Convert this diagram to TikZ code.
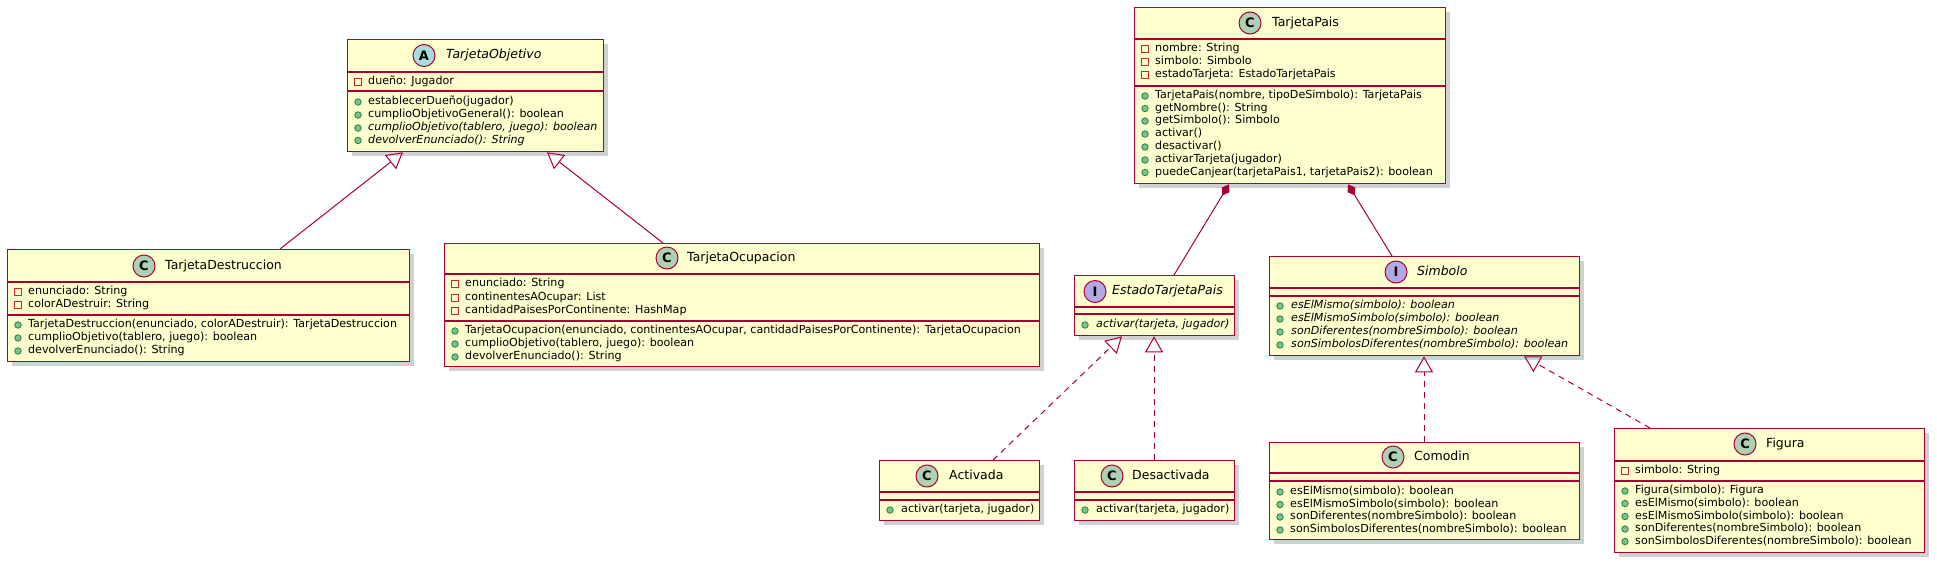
\documentclass[tikz,border=0pt]{standalone}
\usepackage{fontspec}
\setmainfont{DejaVu Sans}
\usetikzlibrary{arrows.meta,calc,shadows}
\definecolor{umlborder}{HTML}{A80036}
\definecolor{umlfill}{HTML}{FEFECE}
\definecolor{cbadge}{HTML}{ADD1B2}
\definecolor{abadge}{HTML}{A9DCDF}
\definecolor{ibadge}{HTML}{B4A7E5}
\definecolor{pubfill}{HTML}{84BE84}
\definecolor{pubdraw}{HTML}{038048}
\definecolor{privdraw}{HTML}{C82930}
\tikzset{
  cls/.style={draw=umlborder, fill=umlfill, line width=1.3pt, rectangle, inner sep=0pt, anchor=north west,
    drop shadow={shadow xshift=4pt, shadow yshift=-4pt, fill=black, opacity=0.18}},
  divider/.style={draw=umlborder, line width=1.2pt},
  badge/.style={circle, draw=umlborder, line width=1pt, minimum size=22pt, inner sep=0pt,
    font=\fontsize{13}{13}\selectfont\bfseries},
  cname/.style={anchor=west, inner sep=0pt, text height=9pt, text depth=2.5pt, font=\fontsize{12.5}{14}\selectfont},
  mem/.style={anchor=west, inner sep=0pt, text height=8pt, text depth=2.5pt, font=\fontsize{11.1}{13}\selectfont},
  pub/.style={circle, draw=pubdraw, fill=pubfill, minimum size=6.5pt, inner sep=0pt, line width=0.7pt},
  priv/.style={rectangle, draw=privdraw, minimum size=7pt, inner sep=0pt, line width=1pt},
  inh/.style={draw=umlborder, line width=1pt, -{Triangle[open, length=16pt, width=18pt]}},
  real/.style={draw=umlborder, line width=1pt, dash pattern=on 6pt off 5pt, -{Triangle[open, length=16pt, width=18pt]}},
  comp/.style={draw=umlborder, line width=1pt, -{Diamond[length=13pt, width=9pt, fill=umlborder]}},
}
\newcount\mc
% #1 name, #2 x, #3 y, #4 w, #5 h, #6 d1, #7 d2
\newcommand{\ubox}[7]{%
  \node[cls, minimum width=#4pt, minimum height=#5pt] (#1) at (#2,#3) {};
  \draw[divider] ([yshift=-#6pt]#1.north west) -- ([yshift=-#6pt]#1.north east);
  \draw[divider] ([yshift=-#7pt]#1.north west) -- ([yshift=-#7pt]#1.north east);
}
% #1 name, #2 badge colour, #3 letter, #4 badge x, #5 name x, #6 y, #7 text
\newcommand{\uhead}[7]{%
  \node[badge, fill=#2] (#1b) at (#4,#6) {#3};
  \node[cname] (#1n) at (#5,#6) {#7};
}
% #1 style, #2 icon x, #3 text x, #4 y, #5 text
\newcommand{\umem}[5]{%
  \global\advance\mc by 1
  \node[#1] (ic\the\mc) at (#2,#4) {};
  \node[mem] (tx\the\mc) at (#3,#4) {#5};
}
\begin{document}
\begin{tikzpicture}[x=1pt,y=-1pt]
\useasboundingbox (0,0) rectangle (1937,565);

% TarjetaObjetivo
\ubox{tobj}{347}{39}{256}{112}{33}{52}
\uhead{tobj}{abadge}{A}{424}{446}{55.5}{\itshape TarjetaObjetivo}
\umem{priv}{358}{368}{82}{dueño: Jugador}
\umem{pub}{358}{368}{102}{establecerDueño(jugador)}
\umem{pub}{358}{368}{115}{cumplioObjetivoGeneral(): boolean}
\umem{pub}{358}{368}{128}{\itshape cumplioObjetivo(tablero, juego): boolean}
\umem{pub}{358}{368}{140.5}{\itshape devolverEnunciado(): String}

% TarjetaDestruccion
\ubox{tdes}{7}{249}{402}{112}{33}{66}
\uhead{tdes}{cbadge}{C}{144}{165}{266}{TarjetaDestruccion}
\umem{priv}{18}{28}{292}{enunciado: String}
\umem{priv}{18}{28}{305}{colorADestruir: String}
\umem{pub}{18}{28}{325}{TarjetaDestruccion(enunciado, colorADestruir): TarjetaDestruccion}
\umem{pub}{18}{28}{338}{cumplioObjetivo(tablero, juego): boolean}
\umem{pub}{18}{28}{351}{devolverEnunciado(): String}

% TarjetaOcupacion
\ubox{tocu}{444}{243}{595}{123}{31}{78}
\uhead{tocu}{cbadge}{C}{667}{687}{258}{TarjetaOcupacion}
\umem{priv}{455}{465}{284}{enunciado: String}
\umem{priv}{455}{465}{298}{continentesAOcupar: List}
\umem{priv}{455}{465}{311}{cantidadPaisesPorContinente: HashMap}
\umem{pub}{455}{465}{331}{TarjetaOcupacion(enunciado, continentesAOcupar, cantidadPaisesPorContinente): TarjetaOcupacion}
\umem{pub}{455}{465}{344}{cumplioObjetivo(tablero, juego): boolean}
\umem{pub}{455}{465}{357}{devolverEnunciado(): String}

% TarjetaPais
\ubox{tpais}{1134}{7}{311}{176}{32}{79}
\uhead{tpais}{cbadge}{C}{1250}{1272}{23}{TarjetaPais}
\umem{priv}{1145}{1155}{49}{nombre: String}
\umem{priv}{1145}{1155}{62}{simbolo: Simbolo}
\umem{priv}{1145}{1155}{75}{estadoTarjeta: EstadoTarjetaPais}
\umem{pub}{1145}{1155}{96}{TarjetaPais(nombre, tipoDeSimbolo): TarjetaPais}
\umem{pub}{1145}{1155}{108.5}{getNombre(): String}
\umem{pub}{1145}{1155}{121}{getSimbolo(): Simbolo}
\umem{pub}{1145}{1155}{134}{activar()}
\umem{pub}{1145}{1155}{147}{desactivar()}
\umem{pub}{1145}{1155}{160}{activarTarjeta(jugador)}
\umem{pub}{1145}{1155}{172.5}{puedeCanjear(tarjetaPais1, tarjetaPais2): boolean}

% EstadoTarjetaPais
\ubox{etp}{1074}{275}{160}{60}{32}{39}
\uhead{etp}{ibadge}{I}{1095}{1112}{291.5}{\itshape EstadoTarjetaPais}
\umem{pub}{1085}{1096}{325}{\itshape activar(tarjeta, jugador)}

% Simbolo
\ubox{simb}{1269}{256}{310}{99}{32}{40}
\uhead{simb}{ibadge}{I}{1396}{1417}{272}{\itshape Simbolo}
\umem{pub}{1280}{1291}{306}{\itshape esElMismo(simbolo): boolean}
\umem{pub}{1280}{1291}{319}{\itshape esElMismoSimbolo(simbolo): boolean}
\umem{pub}{1280}{1291}{332}{\itshape sonDiferentes(nombreSimbolo): boolean}
\umem{pub}{1280}{1291}{345}{\itshape sonSimbolosDiferentes(nombreSimbolo): boolean}

% Activada
\ubox{act}{879}{460}{160}{60}{32}{40}
\uhead{act}{cbadge}{C}{927}{949}{476}{Activada}
\umem{pub}{890}{901}{510}{activar(tarjeta, jugador)}

% Desactivada
\ubox{desact}{1074}{460}{160}{60}{32}{40}
\uhead{desact}{cbadge}{C}{1112}{1132}{476}{Desactivada}
\umem{pub}{1085}{1096}{510}{activar(tarjeta, jugador)}

% Comodin
\ubox{com}{1269}{442}{310}{97}{31}{39}
\uhead{com}{cbadge}{C}{1393}{1414}{457}{Comodin}
\umem{pub}{1280}{1290}{492}{esElMismo(simbolo): boolean}
\umem{pub}{1280}{1290}{504.5}{esElMismoSimbolo(simbolo): boolean}
\umem{pub}{1280}{1290}{517}{sonDiferentes(nombreSimbolo): boolean}
\umem{pub}{1280}{1290}{530}{sonSimbolosDiferentes(nombreSimbolo): boolean}

% Figura
\ubox{fig}{1614}{428}{310}{124}{33}{53}
\uhead{fig}{cbadge}{C}{1745}{1766}{444}{Figura}
\umem{priv}{1625}{1635}{471}{simbolo: String}
\umem{pub}{1625}{1635}{491}{Figura(simbolo): Figura}
\umem{pub}{1625}{1635}{503.5}{esElMismo(simbolo): boolean}
\umem{pub}{1625}{1635}{516.5}{esElMismoSimbolo(simbolo): boolean}
\umem{pub}{1625}{1635}{529}{sonDiferentes(nombreSimbolo): boolean}
\umem{pub}{1625}{1635}{541.5}{sonSimbolosDiferentes(nombreSimbolo): boolean}

% connectors
\draw[inh] ($(tdes.north west)+(273,0)$) -- ($(tobj.south west)+(56,0)$);
\draw[inh] ($(tocu.north west)+(219,0)$) -- ($(tobj.south west)+(200,0)$);
\draw[comp] ($(etp.north west)+(100,0)$) -- ($(tpais.south west)+(95,0)$);
\draw[comp] ($(simb.north west)+(123,0)$) -- ($(tpais.south west)+(214,0)$);
\draw[real] ($(act.north west)+(114,0)$) -- ($(etp.south west)+(48,0)$);
\draw[real] ($(desact.north west)+(80,0)$) -- ($(etp.south west)+(80,0)$);
\draw[real] ($(com.north west)+(155,0)$) -- ($(simb.south west)+(155,0)$);
\draw[real] ($(fig.north west)+(36,0)$) -- ($(simb.south west)+(255,0)$);
\end{tikzpicture}
\end{document}
